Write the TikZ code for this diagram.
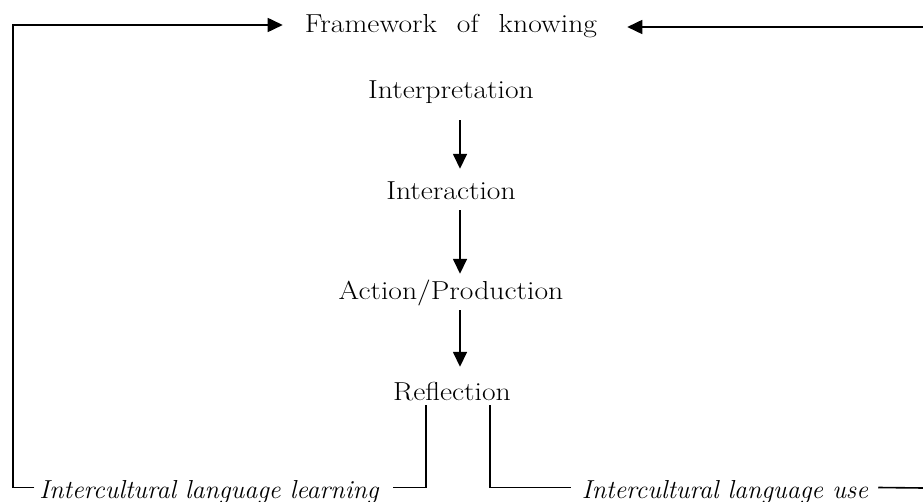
\documentclass[tikz,border=0pt]{standalone}
\usepackage{fontspec}
\usetikzlibrary{arrows.meta}
\newfontfamily\romwide{Latin Modern Roman}[FakeStretch=1.14]
\begin{document}
\begin{tikzpicture}[x=1pt,y=-1pt,
  lbl/.style={inner sep=0pt, text height=18pt, text depth=5pt, font=\fontsize{26}{30}\selectfont\romwide},
  lbli/.style={inner sep=0pt, text height=18pt, text depth=5pt, font=\fontsize{26}{30}\selectfont\itshape},
  ln/.style={line width=1.6pt},
  arr/.style={ln, -{Triangle[length=15pt,width=14pt]}}]
\useasboundingbox[fill=white] (0,0) rectangle (923,502);
\node[lbl, anchor=base] (fw) at (451,33) {Framework\hspace{20pt}of\hspace{20pt}knowing};
\node[lbl, anchor=base] (interp) at (451,99) {Interpretation};
\node[lbl, anchor=base] (interact) at (451,200) {Interaction};
\node[lbl, anchor=base] (action) at (451,300) {Action/Production};
\node[lbl, anchor=base] (refl) at (452,400) {Reflection};
\node[lbli, anchor=base] (ill) at (209,498) {Intercultural language learning};
\node[lbli, anchor=base] (ilu) at (725,498) {Intercultural language use};
\coordinate (cl) at (13,25);
\coordinate (cr) at (923,27);
\coordinate (br) at (923,488);
\draw[arr, shorten <=16pt, shorten >=13pt] ([xshift=9pt]interp.south) -- ([xshift=9pt]interact.north);
\draw[arr, shorten <=5pt, shorten >=8pt] ([xshift=9pt]interact.south) -- ([xshift=9pt]action.north);
\draw[arr, shorten <=5pt, shorten >=15pt] ([xshift=9pt]action.south) -- ([xshift=8pt]refl.north);
\draw[arr] ([xshift=-5pt,yshift=4pt]ill.west) -| (cl) -- ([xshift=-22pt]cl -| fw.west);
\draw[arr] (cr) -- ([xshift=30pt]cr -| fw.east);
\draw[ln] ([xshift=-26pt]refl.south) |- ([xshift=14pt,yshift=4pt]ill.east);
\draw[ln] ([xshift=38pt]refl.south) |- ([xshift=-11pt,yshift=4pt]ilu.west);
\draw[ln] ([xshift=10pt,yshift=4pt]ilu.east) -- (br);
\end{tikzpicture}
\end{document}
